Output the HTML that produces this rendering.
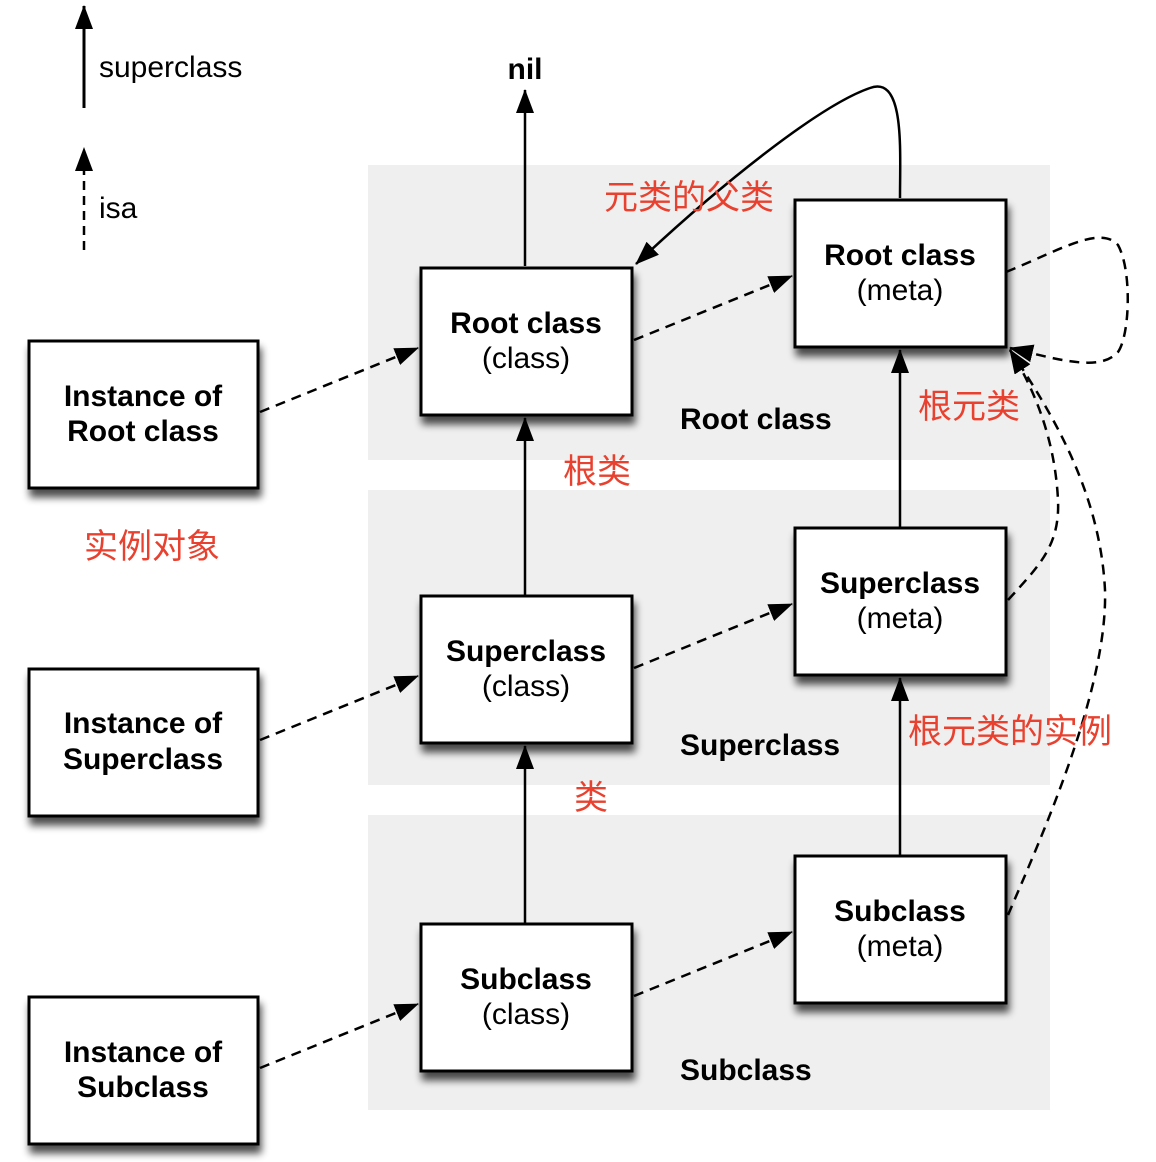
<!DOCTYPE html>
<html><head><meta charset="utf-8"><style>
html,body{margin:0;padding:0;background:#fff;}
svg{display:block}
.t{font-family:"Liberation Sans",Arial,sans-serif;font-size:30px;fill:#000;text-anchor:middle}
.b{font-weight:bold}
.r{font-family:"Liberation Sans","Noto Sans CJK SC",sans-serif;font-size:34px;fill:#e8412f}
</style></head><body>
<svg width="1156" height="1162" viewBox="0 0 1156 1162" xmlns="http://www.w3.org/2000/svg">
<defs>
<marker id="A" markerWidth="24" markerHeight="18" refX="23" refY="9" orient="auto" markerUnits="userSpaceOnUse" viewBox="0 0 24 18">
<path d="M0,0 L24,9 L0,18 z" fill="#000"/></marker>
<filter id="s" x="-20%" y="-20%" width="140%" height="150%"><feGaussianBlur in="SourceAlpha" stdDeviation="4"/><feOffset dx="2" dy="8"/><feComponentTransfer><feFuncA type="linear" slope="0.7"/></feComponentTransfer><feMerge><feMergeNode/><feMergeNode in="SourceGraphic"/></feMerge></filter>
</defs>
<rect x="368" y="165" width="682" height="295" fill="#efefef"/>
<rect x="368" y="490" width="682" height="295" fill="#efefef"/>
<rect x="368" y="815" width="682" height="295" fill="#efefef"/>

<line x1="84" y1="108" x2="84" y2="6" stroke="#000" stroke-width="3" marker-end="url(#A)"/>
<text class="t" x="99" y="77" style="text-anchor:start">superclass</text>
<line x1="84" y1="250" x2="84" y2="148" stroke="#000" stroke-width="2.5" stroke-dasharray="9,6" marker-end="url(#A)"/>
<text class="t" x="99" y="218" style="text-anchor:start">isa</text>

<text class="t b" x="525" y="79">nil</text>
<line x1="525" y1="266" x2="525" y2="90" stroke="#000" stroke-width="2.5" marker-end="url(#A)"/>

<g stroke="#000" stroke-width="2.5" fill="none">
<line x1="525" y1="595" x2="525" y2="418" marker-end="url(#A)"/>
<line x1="525" y1="923" x2="525" y2="746" marker-end="url(#A)"/>
<line x1="900" y1="527" x2="900" y2="350" marker-end="url(#A)"/>
<line x1="900" y1="855" x2="900" y2="678" marker-end="url(#A)"/>
<path d="M900,198 C900,150 905,75 870,88 C820,105 720,185 636,264" marker-end="url(#A)"/>
</g>
<g stroke="#000" stroke-width="2.5" fill="none" stroke-dasharray="10,7">
<line x1="260" y1="412" x2="418" y2="348" marker-end="url(#A)"/>
<line x1="260" y1="740" x2="418" y2="676" marker-end="url(#A)"/>
<line x1="260" y1="1068" x2="418" y2="1004" marker-end="url(#A)"/>
<line x1="634" y1="340" x2="792" y2="276" marker-end="url(#A)"/>
<line x1="634" y1="668" x2="792" y2="604" marker-end="url(#A)"/>
<line x1="634" y1="996" x2="792" y2="932" marker-end="url(#A)"/>
<path d="M1006,272 C1060,250 1100,225 1118,245 C1132,270 1130,335 1118,352 C1100,372 1060,360 1010,348" marker-end="url(#A)"/>
<path d="M1008,600 C1040,565 1060,545 1058,500 C1055,440 1035,390 1010,350" marker-end="url(#A)"/>
<path d="M1008,915 C1040,840 1108,690 1105,590 C1100,490 1050,410 1010,350" marker-end="url(#A)"/>
</g>

<g fill="#fff" stroke="#000" stroke-width="3" filter="url(#s)">
<rect x="29" y="341" width="229" height="147"/>
<rect x="29" y="669" width="229" height="147"/>
<rect x="29" y="997" width="229" height="147"/>
<rect x="421" y="268" width="211" height="147"/>
<rect x="421" y="596" width="211" height="147"/>
<rect x="421" y="924" width="211" height="147"/>
<rect x="795" y="200" width="211" height="147"/>
<rect x="795" y="528" width="211" height="147"/>
<rect x="795" y="856" width="211" height="147"/>
</g>

<text class="t b" x="143" y="406">Instance of</text><text class="t b" x="143" y="441">Root class</text>
<text class="t b" x="143" y="733">Instance of</text><text class="t b" x="143" y="769">Superclass</text>
<text class="t b" x="143" y="1062">Instance of</text><text class="t b" x="143" y="1097">Subclass</text>
<text class="t b" x="526" y="333">Root class</text><text class="t" x="526" y="368">(class)</text>
<text class="t b" x="526" y="661">Superclass</text><text class="t" x="526" y="696">(class)</text>
<text class="t b" x="526" y="989">Subclass</text><text class="t" x="526" y="1024">(class)</text>
<text class="t b" x="900" y="265">Root class</text><text class="t" x="900" y="300">(meta)</text>
<text class="t b" x="900" y="593">Superclass</text><text class="t" x="900" y="628">(meta)</text>
<text class="t b" x="900" y="921">Subclass</text><text class="t" x="900" y="956">(meta)</text>

<text class="t b" x="680" y="429" style="text-anchor:start">Root class</text>
<text class="t b" x="680" y="755" style="text-anchor:start">Superclass</text>
<text class="t b" x="680" y="1080" style="text-anchor:start">Subclass</text>

<text class="r" x="604" y="209">元类的父类</text>
<text class="r" x="563" y="483">根类</text>
<text class="r" x="84" y="558">实例对象</text>
<text class="r" x="918" y="418">根元类</text>
<text class="r" x="908" y="743">根元类的实例</text>
<text class="r" x="574" y="809">类</text>
</svg>
</body></html>
